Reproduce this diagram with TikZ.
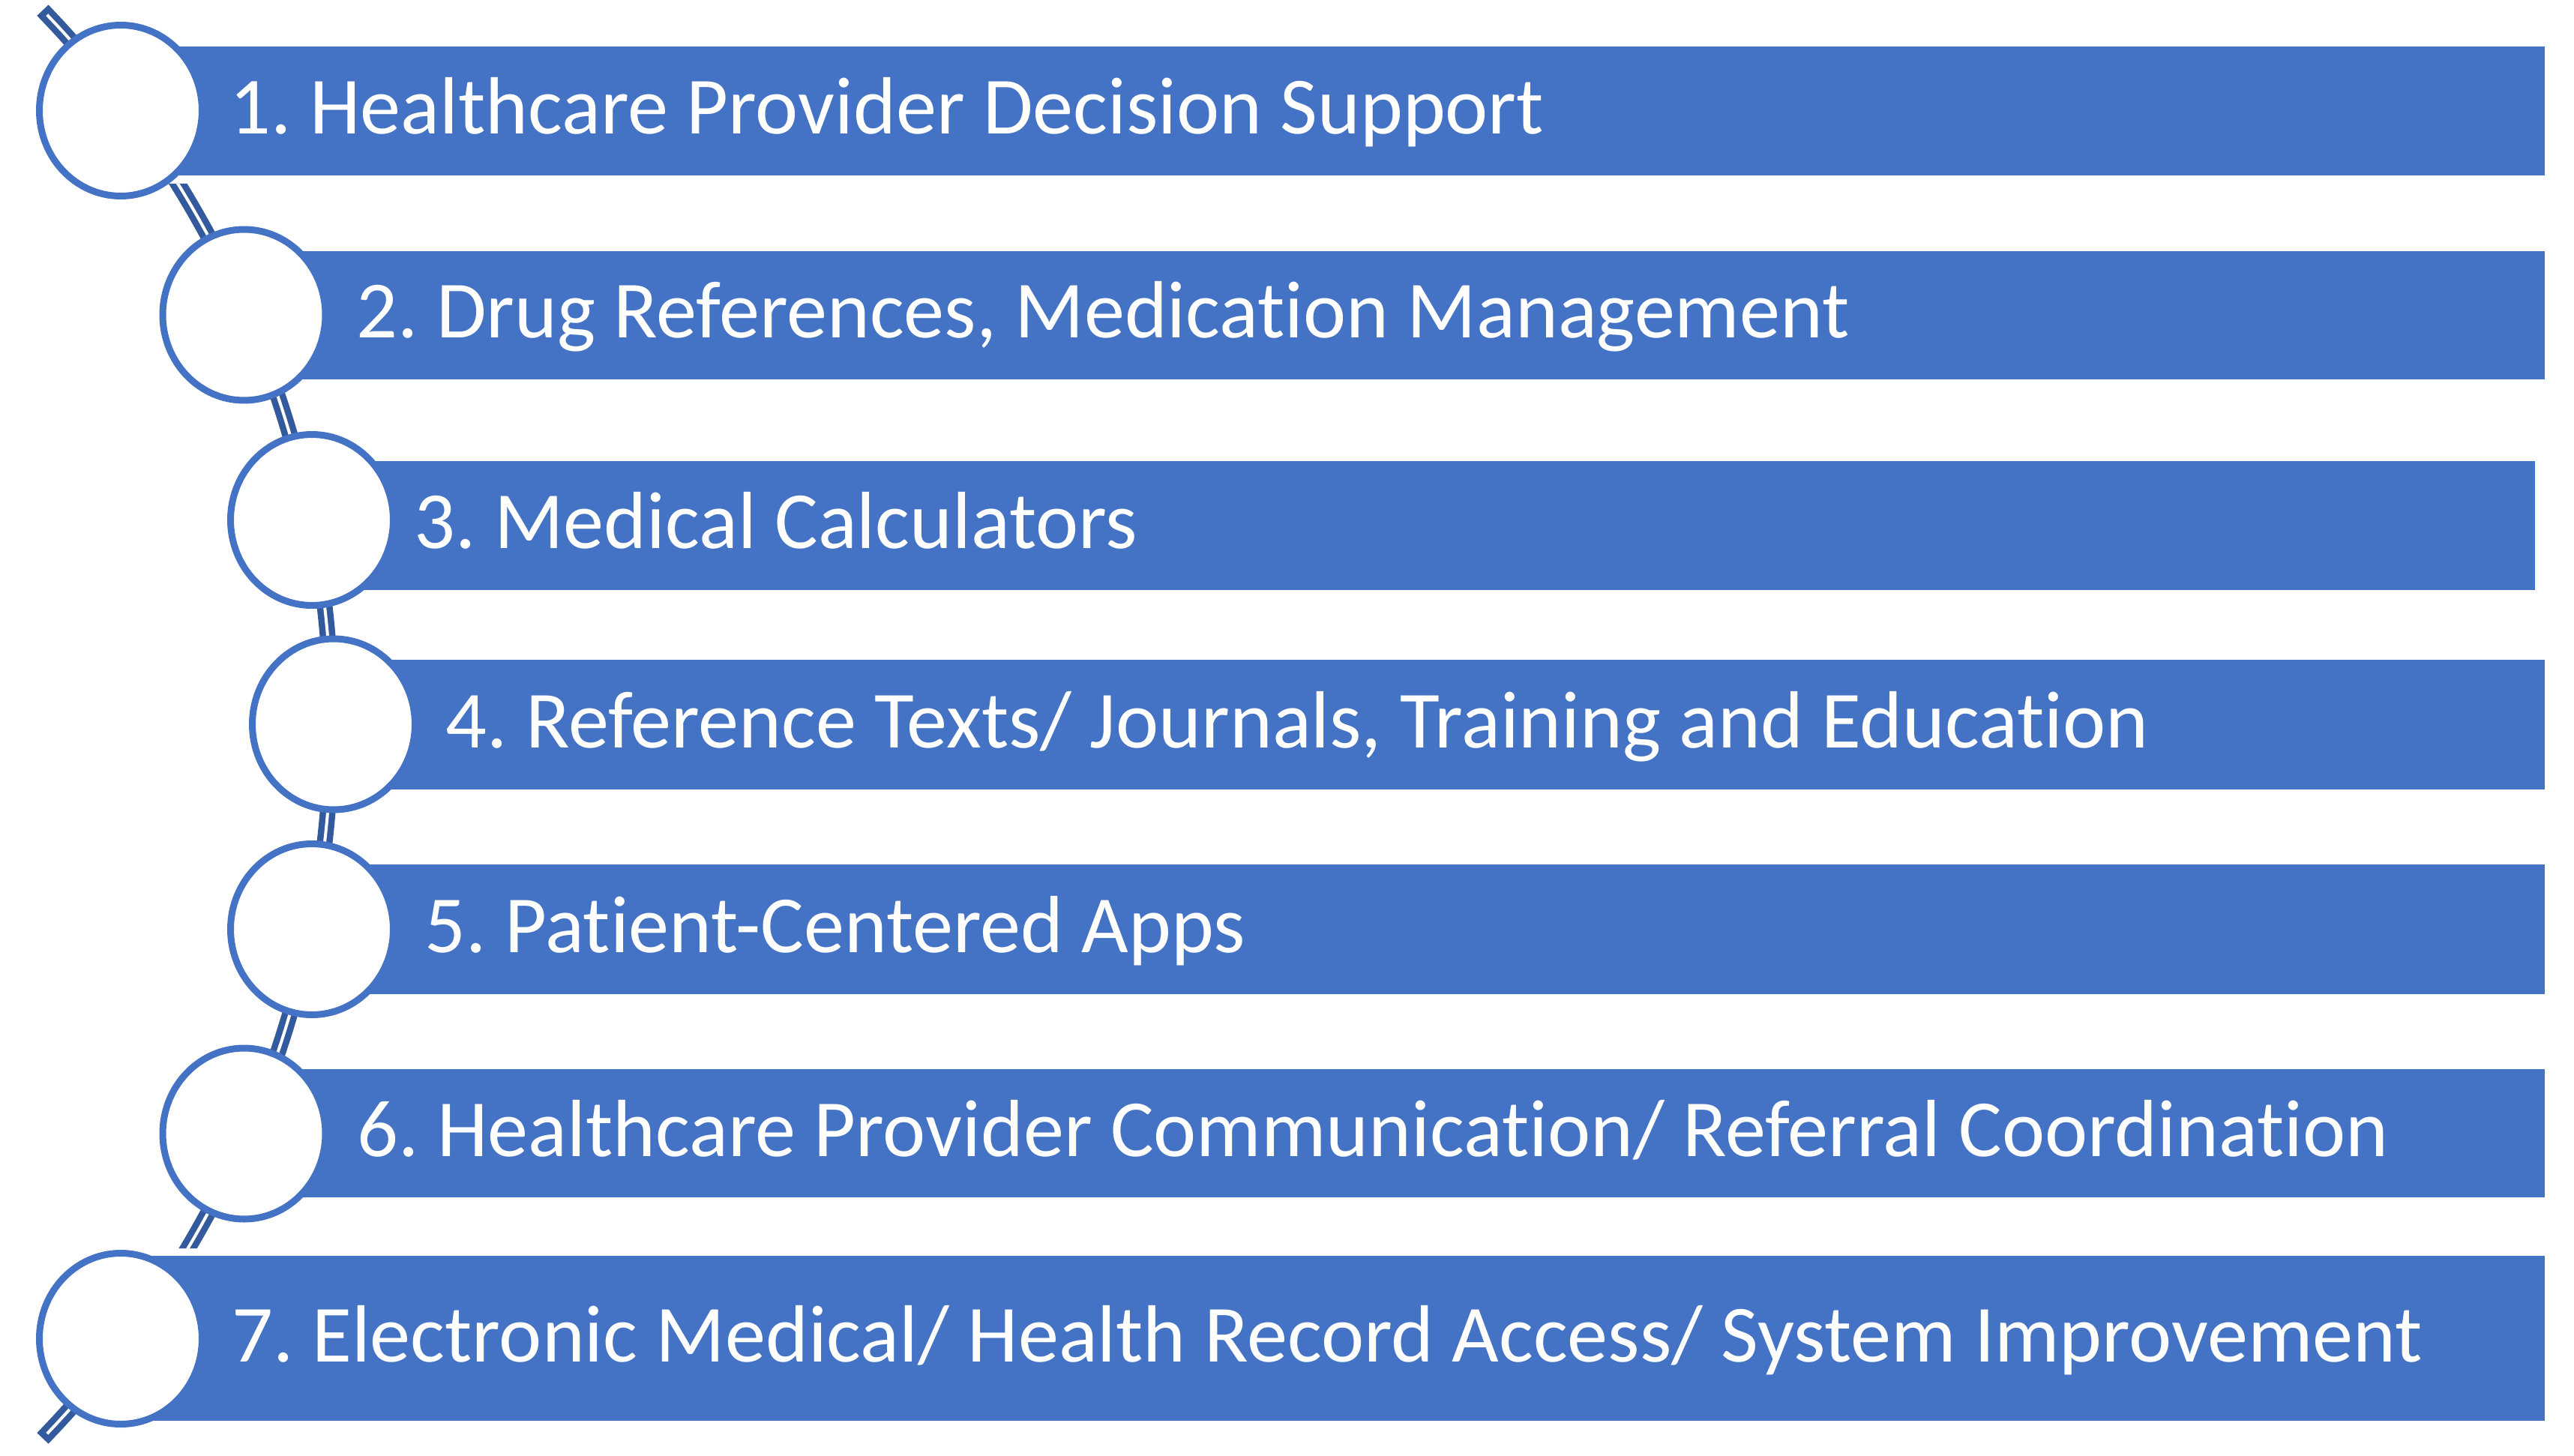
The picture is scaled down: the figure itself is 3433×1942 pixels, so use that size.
\documentclass[tikz,border=0pt]{standalone}
\usepackage{fontspec}
\setmainfont{Carlito}[Ligatures={NoCommon}]
\usetikzlibrary{shapes.geometric}
\definecolor{barblue}{HTML}{4472C4}
\definecolor{linkblue}{HTML}{345A9E}
\frenchspacing
\begin{document}
\begin{tikzpicture}[x=0.1mm,y=-0.1mm,
  barbox/.style={fill=barblue, draw=none, anchor=west, inner sep=0pt, minimum height=#1},
  ring/.style={ellipse, draw=barblue, fill=white, line width=0.9mm, inner sep=0pt, minimum width=21.7mm, minimum height=22.8mm},
  lbl/.style={anchor=base west, inner sep=0pt, text=white, font=\frenchspacing\fontsize{30.8pt}{37pt}\selectfont},
  conn/.style={draw=linkblue, double=white, line width=0.85mm, double distance=0.4mm, line cap=rect}]
\useasboundingbox (0,0) rectangle (3433,1942);
% connector arc (behind everything)
\begin{scope}
  \clip (0,0) rectangle (161,1942) (161,245) rectangle (3433,1665);
  \coordinate (arcstart) at (64.2,21.3);
  \draw[conn] (arcstart) arc[start angle=-43.6, end angle=43.6, radius=1370];
\end{scope}
% bars (each starts at its circle's centre)
\node[barbox=17.2mm, minimum width=323.2mm] (b1) at (161,148) {};
\node[barbox=17.1mm, minimum width=306.75mm] (b2) at (325.5,420.5) {};
\node[barbox=17.2mm, minimum width=296.4mm] (b3) at (416,701) {};
\node[barbox=17.3mm, minimum width=294.8mm] (b4) at (445,966.5) {};
\node[barbox=17.3mm, minimum width=297.7mm] (b5) at (416,1239.5) {};
\node[barbox=17.1mm, minimum width=306.75mm] (b6) at (325.5,1511.5) {};
\node[barbox=22mm, minimum width=323.2mm] (b7) at (161,1785) {};
% circles
\node[ring] (c1) at (161,147.5) {};
\node[ring] (c2) at (325.5,420) {};
\node[ring] (c3) at (416,693.5) {};
\node[ring] (c4) at (445,966) {};
\node[ring] (c5) at (416,1239.5) {};
\node[ring] (c6) at (325.5,1512) {};
\node[ring] (c7) at (161,1785.5) {};
% labels
\node[lbl] (t1) at (306,178.5) {1. Healthcare Provider Decision Support};
\node[lbl] (t2) at (475,450.5) {2. Drug References, Medication Management};
\node[lbl] (t3) at (552,731.5) {3. Medical Calculators};
\node[lbl] (t4) at (594,997) {4. Reference Texts/ Journals, Training and Education};
\node[lbl] (t5) at (566,1270) {5. Patient-Centered Apps};
\node[lbl] (t6) at (476,1542) {6. Healthcare Provider Communication/ Referral Coordination};
\node[lbl] (t7) at (309,1816) {7. Electronic Medical/ Health Record Access/ System Improvement};
\end{tikzpicture}
\end{document}
